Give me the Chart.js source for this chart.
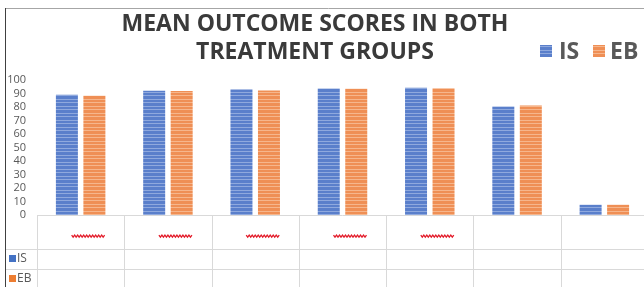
<!DOCTYPE html>
<html>
<head>
<meta charset="utf-8">
<script src="https://cdn.jsdelivr.net/npm/chart.js@4.4.1/dist/chart.umd.min.js"></script>
<style>
  html, body { margin: 0; padding: 0; background: #fff; overflow: hidden; }
  #wrap { position: relative; width: 644px; height: 287px; overflow: hidden; }
  #chart { position: absolute; left: 0; top: 0; }
</style>
</head>
<body>
<div id="wrap"><canvas id="chart" width="652" height="287"></canvas></div>
<script>
// category cells have no visible text, only the red spell-check underline
const categories = ['', '', '', '', '', '', ''];
const underlined = [true, true, true, true, true, false, false];
const isScores = [89.1, 92.0, 93.0, 93.7, 94.2, 80.4, 7.6];
const ebScores = [88.3, 91.9, 92.3, 93.6, 93.8, 81.2, 7.6];
const yTicks = [0, 10, 20, 30, 40, 50, 60, 70, 80, 90, 100];
const titleLines = ['MEAN OUTCOME SCORES IN BOTH', 'TREATMENT GROUPS'];
const seriesNames = ['IS', 'EB'];

// striped fill like the original office export
function stripes(base, light) {
  const c = document.createElement('canvas');
  c.width = 4;
  c.height = 7;
  const g = c.getContext('2d');
  g.fillStyle = base;
  g.fillRect(0, 0, 4, 7);
  g.fillStyle = light;
  g.fillRect(0, 1, 4, 1);
  g.fillRect(0, 4, 4, 1);
  return g.createPattern(c, 'repeat');
}

const blueFill = stripes('#5a7fcb', '#8fa9de');
const orangeFill = stripes('#ef8f55', '#f6b68c');

const decor = {
  id: 'decor',
  afterDraw(chart) {
    const ctx = chart.ctx;
    const area = chart.chartArea;
    const xs = chart.scales.x;
    const step = xs.getPixelForValue(1) - xs.getPixelForValue(0);
    const H = chart.height;
    const row1 = 249.5, row2 = 269.5;

    ctx.save();
    // outer frame
    ctx.strokeStyle = '#a6a6a6';
    ctx.lineWidth = 1;
    ctx.beginPath();
    ctx.moveTo(5, 8.5); ctx.lineTo(chart.width, 8.5);
    ctx.stroke();
    ctx.strokeStyle = '#404040';
    ctx.beginPath();
    ctx.moveTo(5.5, 8); ctx.lineTo(5.5, H);
    ctx.stroke();

    // title
    ctx.fillStyle = '#3a3a3a';
    ctx.font = 'bold 23px "Open Sans"';
    ctx.textAlign = 'center';
    ctx.textBaseline = 'alphabetic';
    ctx.fillText(titleLines[0], 315, 31);
    ctx.fillText(titleLines[1], 315, 59);

    // legend
    ctx.textAlign = 'left';
    ctx.font = 'bold 23px "Open Sans"';
    ctx.fillStyle = blueFill;
    ctx.fillRect(540, 45, 12, 12);
    ctx.fillStyle = '#595959';
    ctx.fillText(seriesNames[0], 559, 59);
    ctx.fillStyle = orangeFill;
    ctx.fillRect(593, 45, 12, 12);
    ctx.fillStyle = '#595959';
    ctx.fillText(seriesNames[1], 610, 59);

    // data table grid
    ctx.strokeStyle = '#d9d9d9';
    ctx.beginPath();
    ctx.moveTo(area.left, area.bottom + 0.5); ctx.lineTo(area.right, area.bottom + 0.5);
    ctx.moveTo(6, row1); ctx.lineTo(area.right, row1);
    ctx.moveTo(6, row2); ctx.lineTo(area.right, row2);
    for (let i = 0; i <= categories.length; i++) {
      const x = Math.round(xs.getPixelForValue(i) - step / 2) + 0.5;
      ctx.moveTo(x, area.bottom); ctx.lineTo(x, H);
    }
    ctx.stroke();

    // row headers
    ctx.font = '12px "Open Sans"';
    ctx.textBaseline = 'middle';
    ctx.fillStyle = '#4472c4';
    ctx.fillRect(9, 255, 7, 7);
    ctx.fillStyle = '#ed7d31';
    ctx.fillRect(9, 275, 7, 7);
    ctx.fillStyle = '#595959';
    ctx.fillText(seriesNames[0], 17, 259);
    ctx.fillText(seriesNames[1], 17, 279);

    // category labels (empty) with red wavy underline
    ctx.strokeStyle = '#e31c2a';
    ctx.lineWidth = 1.3;
    categories.forEach((c, i) => {
      const cx = xs.getPixelForValue(i);
      ctx.fillStyle = '#595959';
      ctx.textAlign = 'center';
      ctx.fillText(c, cx, 232);
      if (!underlined[i]) return;
      const x0 = cx - 9, x1 = cx + 25;
      ctx.beginPath();
      for (let x = x0, k = 0; x <= x1; x += 1.5, k++) {
        const y = 236 + (k % 2 ? 1.2 : -0.8);
        if (k === 0) ctx.moveTo(x, y); else ctx.lineTo(x, y);
      }
      ctx.stroke();
    });
    ctx.restore();
  }
};

const ctx = document.getElementById('chart').getContext('2d');

new Chart(ctx, {
  type: 'bar',
  data: {
    labels: categories,
    datasets: [{
      label: seriesNames[0],
      data: isScores,
      backgroundColor: blueFill,
      borderWidth: 0,
    }, {
      label: seriesNames[1],
      data: ebScores,
      backgroundColor: orangeFill,
      borderWidth: 0,
    }],
  },
  options: {
    responsive: false,
    animation: false,
    events: [],
    layout: { padding: { top: 80, left: 0, right: 4, bottom: 0 } },
    datasets: {
      bar: { categoryPercentage: 0.63, barPercentage: 0.8 }
    },
    scales: {
      x: {
        grid: { display: false },
        border: { display: false },
        ticks: { display: false },
        afterFit: s => { s.height = 72; },
      },
      y: {
        min: 0,
        max: 100,
        afterBuildTicks: s => { s.ticks = yTicks.map(v => ({ value: v })); },
        grid: { display: false, drawTicks: false },
        border: { display: false },
        ticks: {
          autoSkip: false,
          color: '#595959',
          font: { family: 'Open Sans', size: 11 },
          padding: 11,
        },
        afterFit: s => { s.width = 37; },
      }
    },
    plugins: {
      legend: { display: false },
      title: { display: false },
      tooltip: { enabled: false }
    }
  },
  plugins: [decor]
});
</script>
</body>
</html>
